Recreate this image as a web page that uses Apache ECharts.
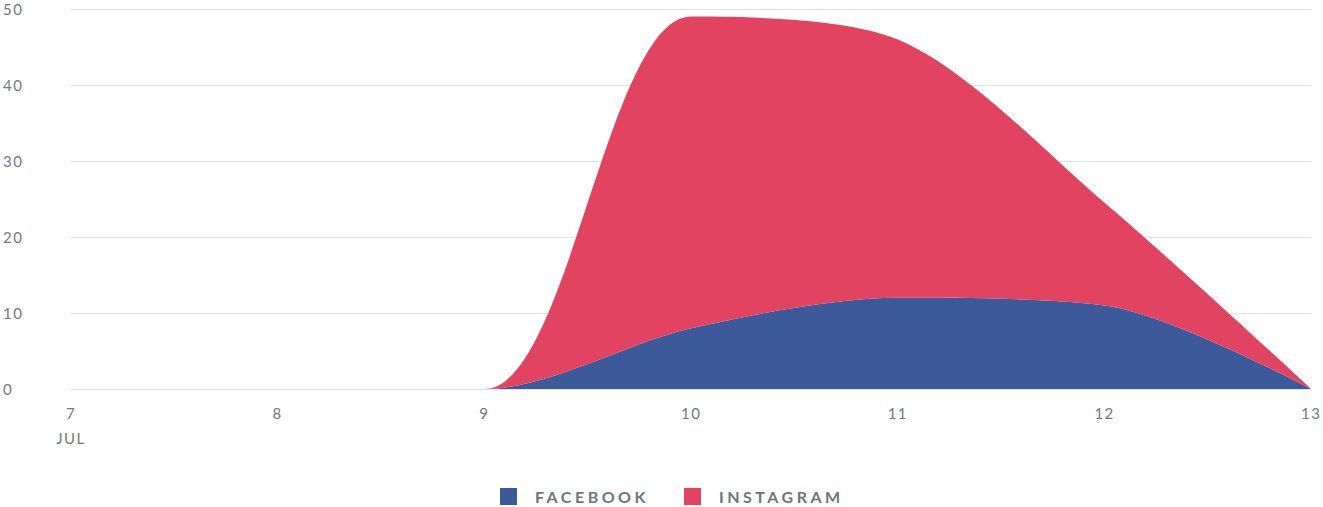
<!DOCTYPE html>
<html>
<head>
<meta charset="utf-8">
<script src="https://cdn.jsdelivr.net/npm/echarts@6/dist/echarts.min.js"></script>
<style>
  html, body { margin: 0; padding: 0; background: #fff; }
  #chart { width: 1323px; height: 507px; }
  #chart svg text { letter-spacing: 1.5px !important; }
  #chart svg text[style*="bold"] { letter-spacing: 3.5px !important; }
</style>
</head>
<body>
<div id="chart"></div>
<script>
// data
const days = ["7", "8", "9", "10", "11", "12", "13"];
const facebook = [0, 0, 0, 8, 12, 11, 0];
const instagram = [0, 0, 0, 41, 34, 13.5, 0];
const yTicks = { min: 0, max: 50, interval: 10 };

const chart = echarts.init(document.getElementById("chart"), null, { renderer: "svg" });

const labelColor = "#6f7b7b";
const fbColor = "#3c5a99";
const igColor = "#e24361";

const legendText = {
  color: "#6b7878",
  fontFamily: "Lato",
  fontWeight: "bold",
  fontSize: 16,
  padding: [0, 0, 0, 13],
};

const option = {
  animation: false,
  grid: { left: 68, right: 10, top: 9, bottom: 118 },
  legend: [
    {
      left: 495,
      top: 483,
      itemWidth: 17,
      itemHeight: 17,
      icon: "rect",
      textStyle: legendText,
      data: ["FACEBOOK"],
    },
    {
      left: 679,
      top: 483,
      itemWidth: 17,
      itemHeight: 17,
      icon: "rect",
      textStyle: legendText,
      data: ["INSTAGRAM"],
    },
  ],
  xAxis: {
    type: "category",
    data: days,
    boundaryGap: false,
    axisLine: { show: false },
    axisTick: { show: false },
    axisLabel: {
      color: labelColor,
      fontFamily: "Lato",
      fontSize: 15,
      margin: 11,
      lineHeight: 25,
      formatter: (v, i) => (i === 0 ? v + "\nJUL" : v),
    },
  },
  yAxis: {
    type: "value",
    min: yTicks.min,
    max: yTicks.max,
    interval: yTicks.interval,
    axisLine: { show: false },
    axisTick: { show: false },
    splitLine: { lineStyle: { color: "#dfe2e2", width: 1 } },
    axisLabel: {
      color: labelColor,
      fontFamily: "Lato",
      fontSize: 15,
      align: "left",
      margin: 68,
    },
  },
  series: [
    {
      name: "FACEBOOK",
      type: "line",
      stack: "total",
      smooth: 0.3,
      symbol: "none",
      data: facebook,
      lineStyle: { width: 0 },
      itemStyle: { color: fbColor },
      areaStyle: { color: fbColor, opacity: 1 },
    },
    {
      name: "INSTAGRAM",
      type: "line",
      stack: "total",
      smooth: 0.3,
      symbol: "none",
      data: instagram,
      lineStyle: { width: 0 },
      itemStyle: { color: igColor },
      areaStyle: { color: igColor, opacity: 1 },
    },
  ],
};

chart.setOption(option);
</script>
</body>
</html>
